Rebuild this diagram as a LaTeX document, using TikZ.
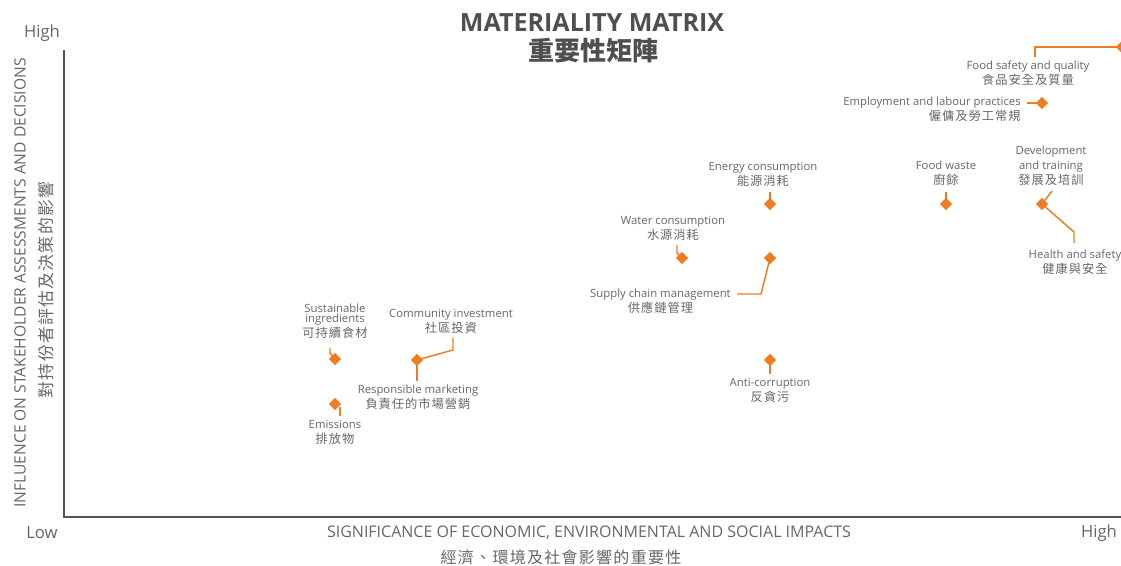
\documentclass[tikz,border=0pt]{standalone}
\usepackage{fontspec}
\setmainfont{Open Sans}
\newfontfamily\cjk[LetterSpace=8]{Noto Sans CJK TC}
\newfontfamily\cjktitle{Noto Sans CJK TC}
\usetikzlibrary{shapes.geometric}
\definecolor{org}{HTML}{F07C1F}
\definecolor{txt}{HTML}{666666}
\definecolor{axisc}{HTML}{555555}
\definecolor{ttl}{HTML}{4F4F4F}
\newcommand{\zh}[1]{{\cjk\fontsize{9.2}{11.25}\selectfont #1}}
\begin{document}
\begin{tikzpicture}[x=0.75pt,y=-0.75pt,
  dmd/.style={diamond, fill=org, inner sep=0pt, minimum size=9.5pt},
  lbl/.style={text=txt, font=\fontsize{8.5}{11.25}\selectfont, align=center, inner sep=0pt},
  conn/.style={draw=org, line width=1.1pt},
  axisline/.style={draw=axisc, line width=1pt},
  axlbl/.style={text=txt, font=\fontsize{12.5}{14}\selectfont, inner sep=0pt},
  axtitle/.style={text=txt, font=\fontsize{12}{14}\selectfont, inner sep=0pt},
  axzh/.style={text=txt, font=\cjk\fontsize{12}{14}\selectfont, inner sep=0pt}]
\useasboundingbox (0,0) rectangle (1121,566);
\clip (0,0) rectangle (1121,566);
% axes
\coordinate (top) at (64,50);
\coordinate (origin) at (64,517);
\coordinate (right) at (1121,517);
\draw[axisline] (top) -- (origin) -- (right);
% title
\node[text=ttl, font=\bfseries\fontsize{18.8}{20}\selectfont, inner sep=0pt] (title) at (592,23) {MATERIALITY MATRIX};
\node[text=ttl, font=\cjktitle\bfseries\fontsize{19.5}{20}\selectfont, inner sep=0pt] (titlezh) at (593,51) {重要性矩陣};
% axis end labels
\node[axlbl] (yhigh) at (42,33) {High};
\node[axlbl] (low) at (42,533) {Low};
\node[axlbl] (xhigh) at (1099,533) {High};
% axis titles
\node[axtitle] (xtitle) at (589,533) {SIGNIFICANCE OF ECONOMIC, ENVIRONMENTAL AND SOCIAL IMPACTS};
\node[axzh] (xtitlezh) at (561,557) {經濟、環境及社會影響的重要性};
\node[axtitle, font=\fontsize{11.7}{14}\selectfont, rotate=90] (ytitle) at (20,283) {INFLUENCE ON STAKEHOLDER ASSESSMENTS AND DECISIONS};
\node[axzh, font=\cjk\fontsize{12.6}{14}\selectfont, rotate=90] (ytitlezh) at (46,290) {對持份者評估及決策的影響};
% diamonds
\node[dmd] (dfsq) at (1122,47) {};
\node[dmd] (demp) at (1042,103) {};
\node[dmd] (ddev) at (1042,204) {};
\node[dmd] (dfw) at (946,204) {};
\node[dmd] (den) at (770,204) {};
\node[dmd] (dwc) at (682,258) {};
\node[dmd] (dsc) at (770,258) {};
\node[dmd] (dac) at (770,360) {};
\node[dmd] (dsi) at (335,359) {};
\node[dmd] (dci) at (417,360) {};
\node[dmd] (dem) at (335,404) {};
% labels
\node[lbl] (fsq) at (1028,73.5) {Food safety and quality\\\zh{食品安全及質量}};
\node[lbl, align=right, anchor=east] (emp) at (1021,109.5) {Employment and labour practices\\\zh{僱傭及勞工常規}};
\node[lbl] (dev) at (1051,166) {Development\\and training\\\zh{發展及培訓}};
\node[lbl] (hs) at (1075,262.5) {Health and safety\\\zh{健康與安全}};
\node[lbl] (fw) at (946,173.5) {Food waste\\\zh{廚餘}};
\node[lbl] (en) at (763,174) {Energy consumption\\\zh{能源消耗}};
\node[lbl] (wc) at (673,228) {Water consumption\\\zh{水源消耗}};
\node[lbl, anchor=east] (sc) at (731,301) {Supply chain management\\\zh{供應鏈管理}};
\node[lbl] (ac) at (770,390.5) {Anti-corruption\\\zh{反貪污}};
\node[lbl] (si) at (335,321) {Sustainable\\[-3.5pt]ingredients\\\zh{可持續食材}};
\node[lbl] (ci) at (451,321) {Community investment\\\zh{社區投資}};
\node[lbl] (rm) at (418,397.5) {Responsible marketing\\\zh{負責任的市場營銷}};
\node[lbl] (em) at (335,432.5) {Emissions\\\zh{排放物}};
% connector ends
\coordinate (cfsq) at (1035,57);
\coordinate (cemp) at (1027,103);
\coordinate (cdev) at (1052,191);
\coordinate (chs1) at (1074,232);
\coordinate (chs2) at (1074,243);
\coordinate (cfw) at (946,192);
\coordinate (cen) at (770,192);
\coordinate (cwc1) at (677,245);
\coordinate (cwc2) at (677,253);
\coordinate (csc1) at (737,294);
\coordinate (csc2) at (761,294);
\coordinate (cac) at (770,374);
\coordinate (csi1) at (330,348);
\coordinate (csi2) at (330,353);
\coordinate (cci1) at (453,350);
\coordinate (cci2) at (453,338);
\coordinate (crm) at (417,381);
\coordinate (cem1) at (340,407);
\coordinate (cem2) at (340,416);
% connectors
\draw[conn] (cfsq) |- (dfsq.center);
\draw[conn] (cemp) -- (demp.center);
\draw[conn] (cdev) -- (ddev.center);
\draw[conn] (ddev.center) -- (chs1) -- (chs2);
\draw[conn] (cfw) -- (dfw.center);
\draw[conn] (cen) -- (den.center);
\draw[conn] (cwc1) -- (cwc2) -- (dwc.center);
\draw[conn] (csc1) -- (csc2) -- (dsc.center);
\draw[conn] (dac.center) -- (cac);
\draw[conn] (csi1) -- (csi2) -- (dsi.center);
\draw[conn] (dci.center) -- (cci1) -- (cci2);
\draw[conn] (dci.center) -- (crm);
\draw[conn] (cem1) -- (cem2);
\end{tikzpicture}
\end{document}
